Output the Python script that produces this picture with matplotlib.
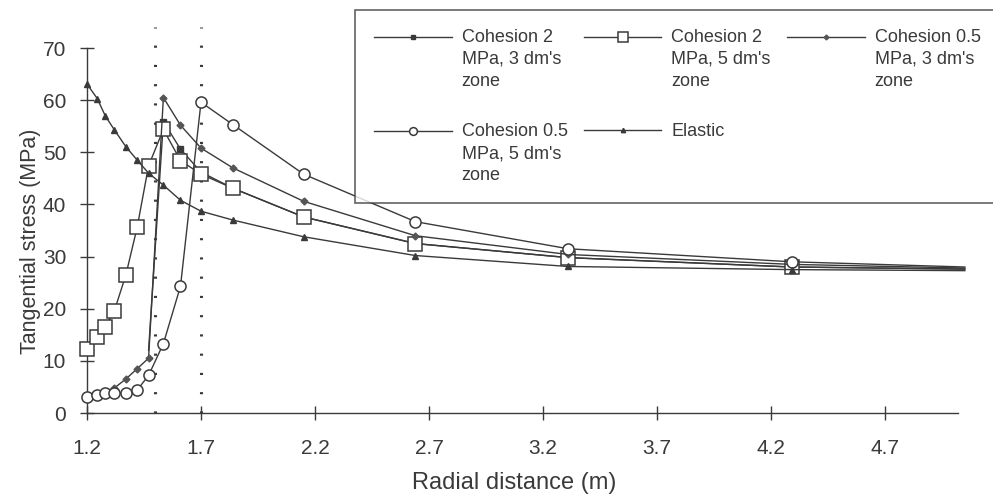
import numpy as np
import matplotlib
matplotlib.use("Agg")
import matplotlib.pyplot as plt
from matplotlib.legend_handler import HandlerLine2D
from matplotlib.transforms import Affine2D

# ------------------------------------
# DATA
# ------------------------------------

radius = [1.2, 1.245, 1.28, 1.32, 1.37, 1.42, 1.47, 1.535, 1.61, 1.7,
          1.84, 2.15, 2.64, 3.31, 4.29, 5.05]

nan = np.nan
coh2_3dm = [nan, nan, nan, nan, nan, nan, 12.0, 55.9, 50.6, 46.2,
            43.1, 37.6, 32.5, 29.8, 28.0, 27.6]
coh2_5dm = [12.3, 14.5, 16.5, 19.6, 26.4, 35.6, 47.4, 54.4, 48.4, 45.8,
            43.1, 37.6, 32.5, 29.8, 28.0, 27.6]
coh05_3dm = [3.0, 3.5, 4.0, 4.8, 6.5, 8.5, 10.5, 60.5, 55.2, 50.8,
             47.0, 40.6, 34.0, 30.4, 28.5, 27.8]
coh05_5dm = [3.0, 3.5, 3.8, 3.8, 3.9, 4.4, 7.2, 13.3, 24.3, 59.6,
             55.3, 45.8, 36.7, 31.5, 29.0, 28.0]
elastic = [63.1, 60.3, 57.0, 54.3, 51.1, 48.5, 46.0, 43.7, 40.8, 38.7,
           37.0, 33.8, 30.2, 28.1, 27.5, 27.3]

labels = ["Cohesion 2\nMPa, 3 dm's\nzone",
          "Cohesion 2\nMPa, 5 dm's\nzone",
          "Cohesion 0.5\nMPa, 3 dm's\nzone",
          "Cohesion 0.5\nMPa, 5 dm's\nzone",
          "Elastic"]

zone_edges = [1.5, 1.7]      # plastic zone boundaries (dotted lines)
zone_top = 74

x_ticks = [1.2, 1.7, 2.2, 2.7, 3.2, 3.7, 4.2, 4.7]
y_ticks = [0, 10, 20, 30, 40, 50, 60, 70]

# ------------------------------------
# STYLE
# ------------------------------------

INK = "#3a3a3a"
plt.rcParams["font.family"] = ["Liberation Sans", "DejaVu Sans"]
plt.rcParams["text.color"] = INK


class FirstLineHandler(HandlerLine2D):
    """Legend handle drawn level with the first line of a wrapped label."""

    def __init__(self, shift, **kw):
        super().__init__(**kw)
        self.shift = shift

    def create_artists(self, legend, orig_handle, xdescent, ydescent,
                       width, height, fontsize, trans):
        arts = super().create_artists(legend, orig_handle, xdescent, ydescent,
                                      width, height, fontsize, trans)
        for a in arts:
            a.set_transform(Affine2D().translate(0, self.shift) + trans)
        return arts


fig = plt.figure(figsize=(9.93, 4.98), dpi=100)
ax = fig.add_axes([87 / 993, 85 / 498, 871 / 993, 365 / 498])

# zone boundaries
for xe in zone_edges:
    ax.plot([xe, xe], [0, zone_top], color=INK, lw=2.2,
            linestyle=(0, (0.7, 5.6)), clip_on=False, zorder=1)

last = len(radius) - 1
series = [
    (coh2_3dm, list(range(7, last)), dict(marker="s", ms=4.5, mfc=INK, mec=INK)),
    (coh2_5dm, list(range(last)), dict(marker="s", ms=10, mfc="white", mec=INK, mew=1.1)),
    (coh05_3dm, list(range(last)), dict(marker="D", ms=3.5, mfc="#555555", mec="#555555")),
    (coh05_5dm, list(range(last)), dict(marker="o", ms=8, mfc="white", mec=INK, mew=1.1)),
    (elastic, list(range(last)), dict(marker="^", ms=4.5, mfc=INK, mec=INK)),
]

handles = []
for (vals, every, style), lab in zip(series, labels):
    h, = ax.plot(radius, vals, color=INK, lw=1.0, label=lab,
                 markevery=every, clip_on=False, zorder=3, **style)
    handles.append(h)

# ------------------------------------
# AXES
# ------------------------------------

ax.set_xlim(1.2, 5.02)
ax.set_ylim(0, 70)
ax.set_xticks(x_ticks)
ax.set_yticks(y_ticks)
ax.set_xticklabels([f"{t:.1f}" for t in x_ticks])
for side in ["top", "right"]:
    ax.spines[side].set_visible(False)
for side in ["left", "bottom"]:
    ax.spines[side].set_color(INK)
    ax.spines[side].set_linewidth(1.0)

ax.tick_params(axis="both", direction="inout", length=10, width=1.0,
               color=INK, labelcolor=INK, labelsize=15)
ax.tick_params(axis="y", pad=10)
ax.tick_params(axis="x", pad=14)

ax.set_xlabel("Radial distance (m)", fontsize=17, color=INK)
ax.set_ylabel("Tangential stress (MPa)", fontsize=15.5, color=INK)
ax.xaxis.set_label_coords(0.491, -0.163)
ax.yaxis.set_label_coords(-0.053, 0.47)

# ------------------------------------
# LEGEND (row-wise order like the original)
# ------------------------------------

order = [0, 3, 1, 4, 2]
hmap = {h: FirstLineHandler(16.5 if "\n" in h.get_label() else 0.0)
        for h in handles}
leg = fig.legend(handles=[handles[i] for i in order],
                 labels=[labels[i] for i in order], ncol=3,
                 loc="upper left", bbox_to_anchor=(355 / 993, 1 - 10 / 498),
                 borderaxespad=0, fontsize=13, frameon=True, fancybox=False,
                 handlelength=4.3, handletextpad=0.55, columnspacing=0.9,
                 labelspacing=1.85, borderpad=1.05, markerscale=0.7,
                 handler_map=hmap)
leg.get_frame().set_edgecolor(INK)
leg.get_frame().set_linewidth(1.2)
for t in leg.get_texts():
    t.set_linespacing(1.38)
    t.set_color(INK)

fig.savefig("out.png", dpi=100, facecolor="white")
